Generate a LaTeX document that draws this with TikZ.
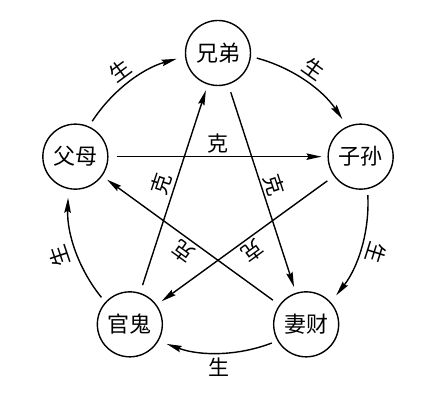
\documentclass[tikz,border=0pt]{standalone}
\usepackage{fontspec}
\newfontfamily\cjk{Noto Sans CJK SC}
\usetikzlibrary{arrows.meta,calc}
\begin{document}
\begin{tikzpicture}[x=1pt,y=1pt,
  elem/.style={circle,draw,line width=1.4pt,minimum size=65pt,inner sep=0pt,
    font=\cjk\fontsize{22}{22}\selectfont},
  lab/.style={font=\cjk\fontsize{21}{21}\selectfont,inner sep=0pt},
  kelab/.style={font=\cjk\fontsize{21}{21}\selectfont,inner sep=3pt},
  conn/.style={line width=1.4pt,-{Stealth[length=15pt,width=6.5pt,inset=2pt]}},
  ke/.style={conn,shorten <=8pt,shorten >=6pt}]
\useasboundingbox (0,0) rectangle (437,409);
\coordinate (O) at (218,206);
\node[elem] (xd) at ($(O)+(90:150)$) {兄弟};
\node[elem] (zs) at ($(O)+(18:150)$) {子孙};
\node[elem] (qc) at ($(O)+(-54:150)$) {妻财};
\node[elem] (gg) at ($(O)+(-126:150)$) {官鬼};
\node[elem] (fm) at ($(O)+(162:150)$) {父母};
% sheng (outer cycle, arcs of the circle through the five centres)
\draw[conn] ($(O)+(75:150)$) arc[start angle=75,end angle=34,radius=150];
\draw[conn] ($(O)+(3:150)$) arc[start angle=3,end angle=-38,radius=150];
\draw[conn] ($(O)+(-69:150)$) arc[start angle=-69,end angle=-110,radius=150];
\draw[conn] ($(O)+(-141:150)$) arc[start angle=-141,end angle=-182,radius=150];
\draw[conn] ($(O)+(147:150)$) arc[start angle=147,end angle=106,radius=150];
\node[lab,rotate=-35.5] (s1) at ($(O)+(54.5:165)$) {生};
\node[lab,rotate=-107.5] (s2) at ($(O)+(-17.5:166)$) {生};
\node[lab] (s3) at ($(O)+(-89.5:164)$) {生};
\node[lab,rotate=108.5] (s4) at ($(O)+(-161.5:167)$) {生};
\node[lab,rotate=36.5] (s5) at ($(O)+(126.5:165)$) {生};
% ke (inner star)
\draw[ke] (fm) -- node[midway,kelab,anchor=south] {克} (zs);
\draw[ke] (gg) -- node[midway,kelab,rotate=72,anchor=south] {克} (xd);
\draw[ke] (xd) -- node[midway,kelab,rotate=-72,anchor=south] {克} (qc);
\draw[ke] (qc) -- node[midway,kelab,rotate=144,anchor=south] {克} (fm);
\draw[ke] (zs) -- node[midway,kelab,rotate=-144,anchor=south] {克} (gg);
\end{tikzpicture}
\end{document}
